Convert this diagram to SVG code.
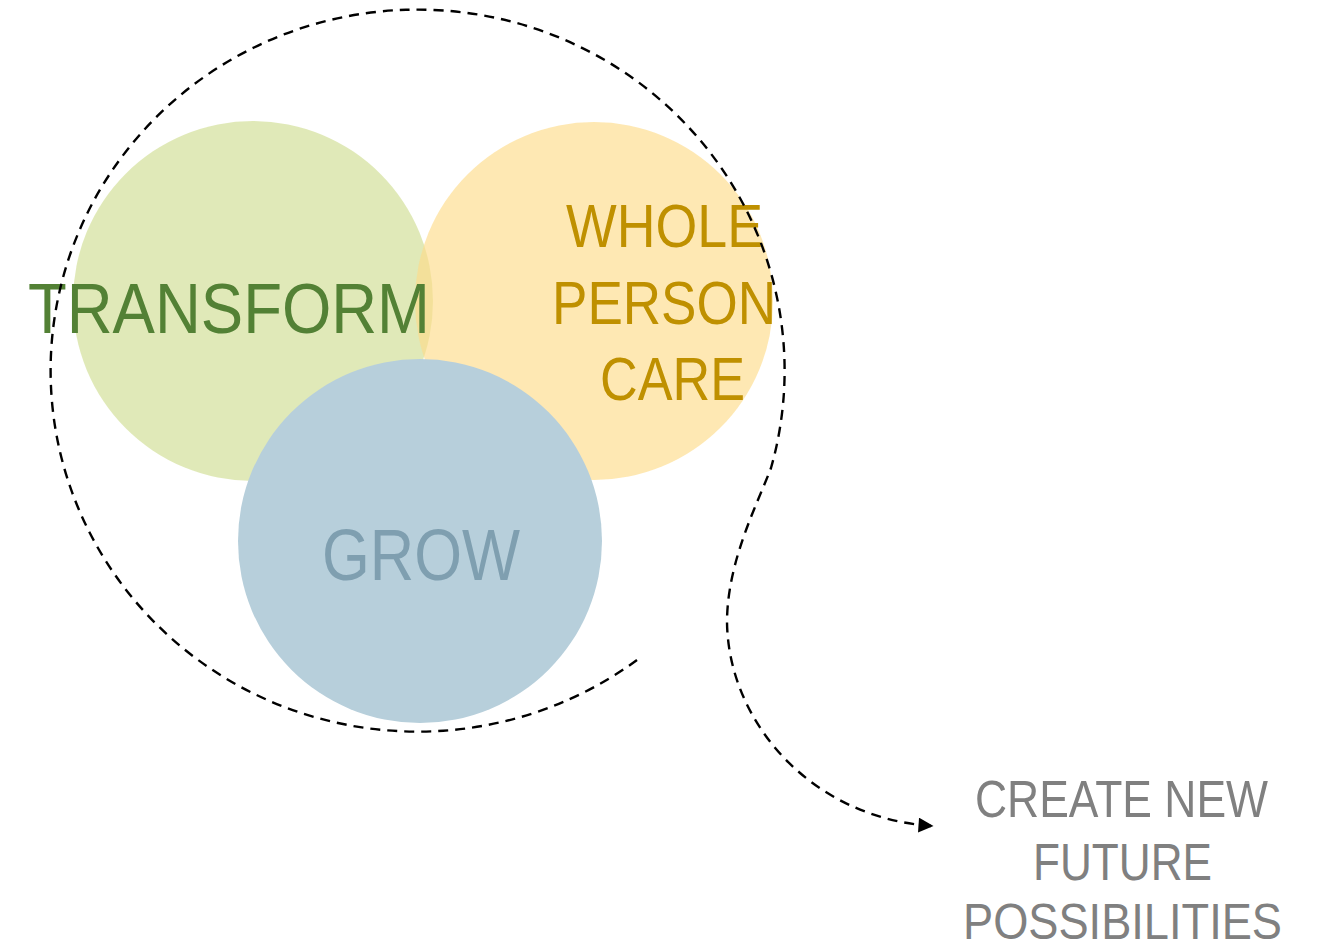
<svg xmlns="http://www.w3.org/2000/svg" width="1319" height="951" viewBox="0 0 1319 951">
<style>
text{font-family:"Liberation Sans","DejaVu Sans",sans-serif;}
.conn{fill:none;stroke:#000;stroke-width:2.4;stroke-dasharray:10 7;}
</style>
<defs>
<marker id="arr" viewBox="0 0 10 10" refX="9" refY="5" markerWidth="18" markerHeight="15" markerUnits="userSpaceOnUse" orient="auto"><path d="M0,0 L10,5 L0,10 z" fill="#000"/></marker>
</defs>
<rect width="1319" height="951" fill="#fff"/>
<g id="transform"><circle cx="253" cy="301" r="180" fill="#d6e2a0" fill-opacity="0.75"/></g>
<g id="whole-person-care"><circle cx="594" cy="301" r="179" fill="#fedb8a" fill-opacity="0.65"/></g>
<g id="grow"><circle cx="420" cy="541" r="182" fill="#b7cfdb"/></g>
<g id="labels">
<text x="28" y="333" font-size="70" fill="#538135" textLength="402" lengthAdjust="spacingAndGlyphs">TRANSFORM</text>
<text x="566" y="247" font-size="62" fill="#bf9000" textLength="197" lengthAdjust="spacingAndGlyphs">WHOLE</text>
<text x="552" y="324" font-size="62" fill="#bf9000" textLength="224" lengthAdjust="spacingAndGlyphs">PERSON</text>
<text x="600" y="400" font-size="62" fill="#bf9000" textLength="145" lengthAdjust="spacingAndGlyphs">CARE</text>
<text x="322" y="580" font-size="72" fill="#7f9fb0" textLength="198" lengthAdjust="spacingAndGlyphs">GROW</text>
</g>
<g id="outcome">
<text x="975" y="817" font-size="52" fill="#808080" textLength="293" lengthAdjust="spacingAndGlyphs">CREATE NEW</text>
<text x="1033" y="880" font-size="52" fill="#808080" textLength="179" lengthAdjust="spacingAndGlyphs">FUTURE</text>
<text x="963" y="939" font-size="50" fill="#808080" textLength="319" lengthAdjust="spacingAndGlyphs">POSSIBILITIES</text>
</g>
<g id="connectors">
<path class="conn" d="M637 660 A367 361 0 1 1 771 468 C757 505 728 560 727 620 C727 720 810 818 932 826" marker-end="url(#arr)"/>
</g>
</svg>
